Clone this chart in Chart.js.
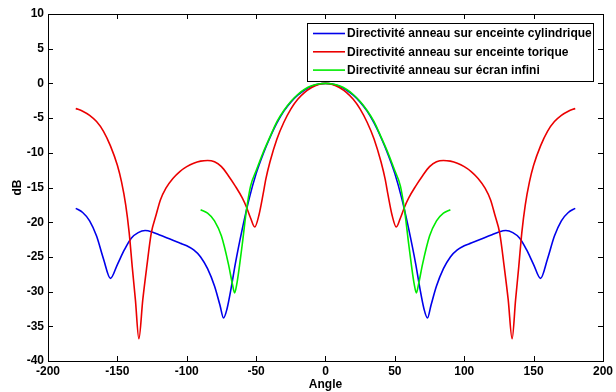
<!DOCTYPE html>
<html>
<head>
<meta charset="utf-8">
<script src="https://cdn.jsdelivr.net/npm/chart.js@4.4.1/dist/chart.umd.min.js"></script>
<style>
  html, body { margin: 0; padding: 0; background: #fff; }
  #wrap { width: 616px; height: 392px; }
</style>
</head>
<body>
<div id="wrap"><canvas id="dirChart" width="616" height="392"></canvas></div>
<script>
// valeurs (angle en degrés, niveau en dB)
const angleCyl = [-180,-175,-170,-165,-160,-155,-150,-145,-140,-135,-130,-125,-120,-115,-110,-105,-100,-95,-90,-85,-80,-76,-73.5,-71,-68,-65,-60,-55,-50,-45,-40,-35,-30,-25,-20,-15,-10,-5,0,
  5,10,15,20,25,30,35,40,45,50,55,60,65,68,71,73.5,76,80,85,90,95,100,105,110,115,120,125,130,135,140,145,150,155,160,165,170,175,180];
const dbCyl = [-18.0,-18.6,-19.8,-22.0,-25.3,-28.1,-26.1,-24.0,-22.3,-21.5,-21.2,-21.4,-21.8,-22.2,-22.6,-23.0,-23.4,-24.0,-25.0,-26.7,-29.2,-32.0,-33.8,-32.5,-29.5,-26.0,-21.0,-16.6,-13.0,-10.2,-7.8,-5.7,-4.0,-2.7,-1.7,-0.95,-0.4,-0.1,0,
  -0.1,-0.4,-0.95,-1.7,-2.7,-4.0,-5.7,-7.8,-10.2,-13.0,-16.6,-21.0,-26.0,-29.5,-32.5,-33.8,-32.0,-29.2,-26.7,-25.0,-24.0,-23.4,-23.0,-22.6,-22.2,-21.8,-21.4,-21.2,-21.5,-22.3,-24.0,-26.1,-28.1,-25.3,-22.0,-19.8,-18.6,-18.0];

const angleTor = [-180,-175,-170,-165,-160,-155,-150,-147,-144,-141.5,-139.3,-137,-134.5,-131.7,-128.8,-125.6,-122,-119,-115,-110,-105,-100,-95,-90,-85,-80,-75,-70,-65,-60,-57,-54,-51,-48,-45,-43,-40,-35,-30,-25,-20,-15,-10,-5,0,
  5,10,15,20,25,30,35,40,43,45,48,51,54,57,60,65,70,75,80,85,90,95,100,105,110,115,119,122,125.6,128.8,131.7,134.5,137,139.3,141.5,144,147,150,155,160,165,170,175,180];
const dbTor = [-3.6,-4.0,-4.6,-5.5,-6.9,-9.0,-11.8,-14.2,-17.5,-21.5,-26.4,-31.2,-36.8,-31.2,-26.4,-21.6,-18.9,-16.8,-15.1,-13.7,-12.7,-12.0,-11.5,-11.2,-11.1,-11.3,-12.0,-13.3,-14.8,-16.5,-17.8,-19.4,-20.7,-19.0,-16.0,-13.8,-11.3,-8.0,-5.6,-3.7,-2.3,-1.3,-0.6,-0.15,0,
  -0.15,-0.6,-1.3,-2.3,-3.7,-5.6,-8.0,-11.3,-13.8,-16.0,-19.0,-20.7,-19.4,-17.8,-16.5,-14.8,-13.3,-12.0,-11.3,-11.1,-11.2,-11.5,-12.0,-12.7,-13.7,-15.1,-16.8,-18.9,-21.6,-26.4,-31.2,-36.8,-31.2,-26.4,-21.5,-17.5,-14.2,-11.8,-9.0,-6.9,-5.5,-4.6,-4.0,-3.6];

const angleEcran = [-90,-85,-80,-75,-70,-67,-65.5,-64,-62,-60,-57,-54,-50,-45,-40,-35,-30,-25,-20,-15,-10,-5,0,
  5,10,15,20,25,30,35,40,45,50,54,57,60,62,64,65.5,67,70,75,80,85,90];
const dbEcran = [-18.2,-18.7,-19.8,-22.0,-26.0,-29.0,-30.2,-29.0,-26.3,-23.2,-18.3,-14.8,-12.6,-10.0,-7.7,-5.5,-3.9,-2.6,-1.6,-0.85,-0.35,-0.08,0,
  -0.08,-0.35,-0.85,-1.6,-2.6,-3.9,-5.5,-7.7,-10.0,-12.6,-14.8,-18.3,-23.2,-26.3,-29.0,-30.2,-29.0,-26.0,-22.0,-19.8,-18.7,-18.2];

const labels = [
  'Directivité anneau sur enceinte cylindrique',
  'Directivité anneau sur enceinte torique',
  'Directivité anneau sur écran infini'
];
const colors = ['rgb(0,0,235)', 'rgb(235,0,0)', 'rgb(0,235,0)'];

function pts(xs, ys) {
  return xs.map((x, i) => ({ x: x, y: ys[i] }));
}

Chart.defaults.font.family = '"Liberation Sans", Arial, sans-serif';
Chart.defaults.font.size = 12;
Chart.defaults.font.weight = 'bold';
Chart.defaults.color = '#000';

// cadre + graduations vers l'intérieur + légende (style matlab)
const matlabFrame = {
  id: 'matlabFrame',
  afterDraw(chart) {
    const ctx = chart.ctx;
    const a = chart.chartArea;
    const xs = chart.scales.x, ys = chart.scales.y;
    ctx.save();
    ctx.strokeStyle = '#000';
    ctx.lineWidth = 1;
    ctx.strokeRect(Math.round(a.left) + 0.5, Math.round(a.top) + 0.5,
      Math.round(a.right - a.left), Math.round(a.bottom - a.top));
    ctx.beginPath();
    xs.ticks.forEach(t => {
      const px = Math.round(xs.getPixelForValue(t.value)) + 0.5;
      ctx.moveTo(px, a.bottom); ctx.lineTo(px, a.bottom - 5);
      ctx.moveTo(px, a.top); ctx.lineTo(px, a.top + 5);
    });
    ys.ticks.forEach(t => {
      const py = Math.round(ys.getPixelForValue(t.value)) + 0.5;
      ctx.moveTo(a.left, py); ctx.lineTo(a.left + 5, py);
      ctx.moveTo(a.right, py); ctx.lineTo(a.right - 5, py);
    });
    ctx.stroke();

    // légende
    const bx = 307.5, by = 23.5, bw = 286, bh = 58;
    ctx.fillStyle = '#fff';
    ctx.fillRect(bx, by, bw, bh);
    ctx.strokeRect(bx, by, bw, bh);
    ctx.font = 'bold 12px "Liberation Sans", Arial, sans-serif';
    ctx.textBaseline = 'middle';
    ctx.textAlign = 'left';
    chart.data.datasets.forEach((ds, i) => {
      const y = 33.5 + i * 18.3;
      ctx.strokeStyle = ds.borderColor;
      ctx.lineWidth = 1.6;
      ctx.beginPath();
      ctx.moveTo(313, y); ctx.lineTo(345, y);
      ctx.stroke();
      ctx.fillStyle = '#000';
      ctx.fillText(ds.label, 347, y + 0.5);
    });
    ctx.restore();
  }
};

const ctx = document.getElementById('dirChart').getContext('2d');
const dirChart = new Chart(ctx, {
  type: 'line',
  data: {
    datasets: [
      { label: labels[0], data: pts(angleCyl, dbCyl), borderColor: colors[0], order: 3 },
      { label: labels[1], data: pts(angleTor, dbTor), borderColor: colors[1], order: 2 },
      { label: labels[2], data: pts(angleEcran, dbEcran), borderColor: colors[2], order: 1 }
    ]
  },
  options: {
    responsive: false,
    animation: false,
    layout: { padding: { left: 0, right: 12, top: 14, bottom: 0 } },
    elements: {
      line: { borderWidth: 1.6, cubicInterpolationMode: 'monotone', fill: false },
      point: { radius: 0 }
    },
    plugins: {
      legend: { display: false },
      tooltip: { enabled: false }
    },
    scales: {
      x: {
        type: 'linear',
        min: -200, max: 200,
        ticks: { stepSize: 50, padding: 3, maxRotation: 0 },
        grid: { display: false, drawTicks: false, tickLength: 0 },
        border: { display: false },
        title: { display: true, text: 'Angle', padding: { top: 0, bottom: 0 } },
        afterFit(scale) { scale.height = 31; }
      },
      y: {
        min: -40, max: 10,
        ticks: { stepSize: 5, padding: 4 },
        grid: { display: false, drawTicks: false, tickLength: 0 },
        border: { display: false },
        title: { display: true, text: 'dB', padding: { top: 10, bottom: 0 } },
        afterFit(scale) { scale.width = 48; }
      }
    }
  },
  plugins: [matlabFrame]
});
</script>
</body>
</html>
